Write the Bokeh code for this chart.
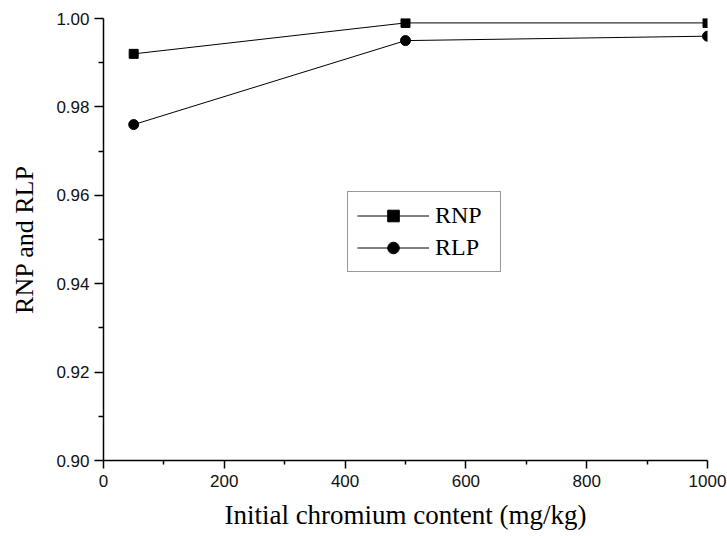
from bokeh.plotting import figure
from bokeh.models import Range1d, Legend, LegendItem, FixedTicker
from bokeh.embed import file_html
from bokeh.resources import INLINE

# Initial chromium content (mg/kg)
content = [50, 500, 1000]
# Removal ratios
rnp = [0.992, 0.999, 0.999]
rlp = [0.976, 0.995, 0.996]

x_ticks = [0, 200, 400, 600, 800, 1000]
x_minor = [100, 300, 500, 700, 900]
y_ticks = [0.90, 0.92, 0.94, 0.96, 0.98, 1.00]
y_minor = [0.91, 0.93, 0.95, 0.97, 0.99]

p = figure(width=727, height=536, output_backend="svg", toolbar_location=None,
           x_range=Range1d(0, 1000), y_range=Range1d(0.90, 1.00),
           min_border_left=103, min_border_right=20, min_border_top=18,
           min_border_bottom=76)
p.outline_line_color = None
p.xgrid.visible = False
p.ygrid.visible = False
p.background_fill_color = "white"
p.border_fill_color = "white"

p.xaxis.ticker = FixedTicker(ticks=x_ticks, minor_ticks=x_minor)
p.yaxis.ticker = FixedTicker(ticks=y_ticks, minor_ticks=y_minor)
p.yaxis.major_label_overrides = {v: f"{v:.2f}" for v in y_ticks}

for ax in (p.xaxis[0], p.yaxis[0]):
    ax.axis_line_color = "black"
    ax.axis_line_width = 1.5
    ax.major_tick_line_color = "black"
    ax.minor_tick_line_color = "black"
    ax.major_tick_line_width = 1.5
    ax.minor_tick_line_width = 1.5
    ax.major_tick_in = 0
    ax.minor_tick_in = 0
    ax.major_label_text_font = "Liberation Sans"
    ax.major_label_text_font_size = "17px"
    ax.major_label_text_color = "#111111"
    ax.axis_label_text_font = "Liberation Serif"
    ax.axis_label_text_font_style = "normal"
    ax.axis_label_text_color = "black"

p.xaxis.axis_label_text_font_size = "27px"
p.yaxis.axis_label_text_font_size = "26px"
p.xaxis.major_tick_out = 8
p.xaxis.minor_tick_out = 4
p.yaxis.major_tick_out = 9
p.yaxis.minor_tick_out = 5
p.xaxis.major_label_standoff = 6
p.yaxis.major_label_standoff = 5
p.xaxis.axis_label = "Initial chromium content (mg/kg)"
p.yaxis.axis_label = "RNP and RLP"
p.xaxis.axis_label_standoff = 10
p.yaxis.axis_label_standoff = 14

l1 = p.line(content, rnp, line_color="black", line_width=1)
m1 = p.scatter(content, rnp, marker="square", size=9, fill_color="black", line_color="black")
l2 = p.line(content, rlp, line_color="black", line_width=1)
m2 = p.scatter(content, rlp, marker="circle", size=10, fill_color="black", line_color="black")

legend = Legend(items=[LegendItem(label="RNP", renderers=[l1, m1]),
                       LegendItem(label="RLP", renderers=[l2, m2])],
                location=(244, 188))
legend.border_line_color = "#333333"
legend.border_line_width = 1
legend.background_fill_alpha = 1
legend.label_text_font = "Liberation Serif"
legend.label_text_font_size = "24px"
legend.label_text_color = "black"
legend.glyph_width = 72
legend.glyph_height = 29
legend.label_height = 29
legend.label_width = 56
legend.label_standoff = 6
legend.spacing = 3
legend.padding = 9
legend.margin = 0
p.add_layout(legend, "center")

open("out.html", "w").write(file_html(p, INLINE))
